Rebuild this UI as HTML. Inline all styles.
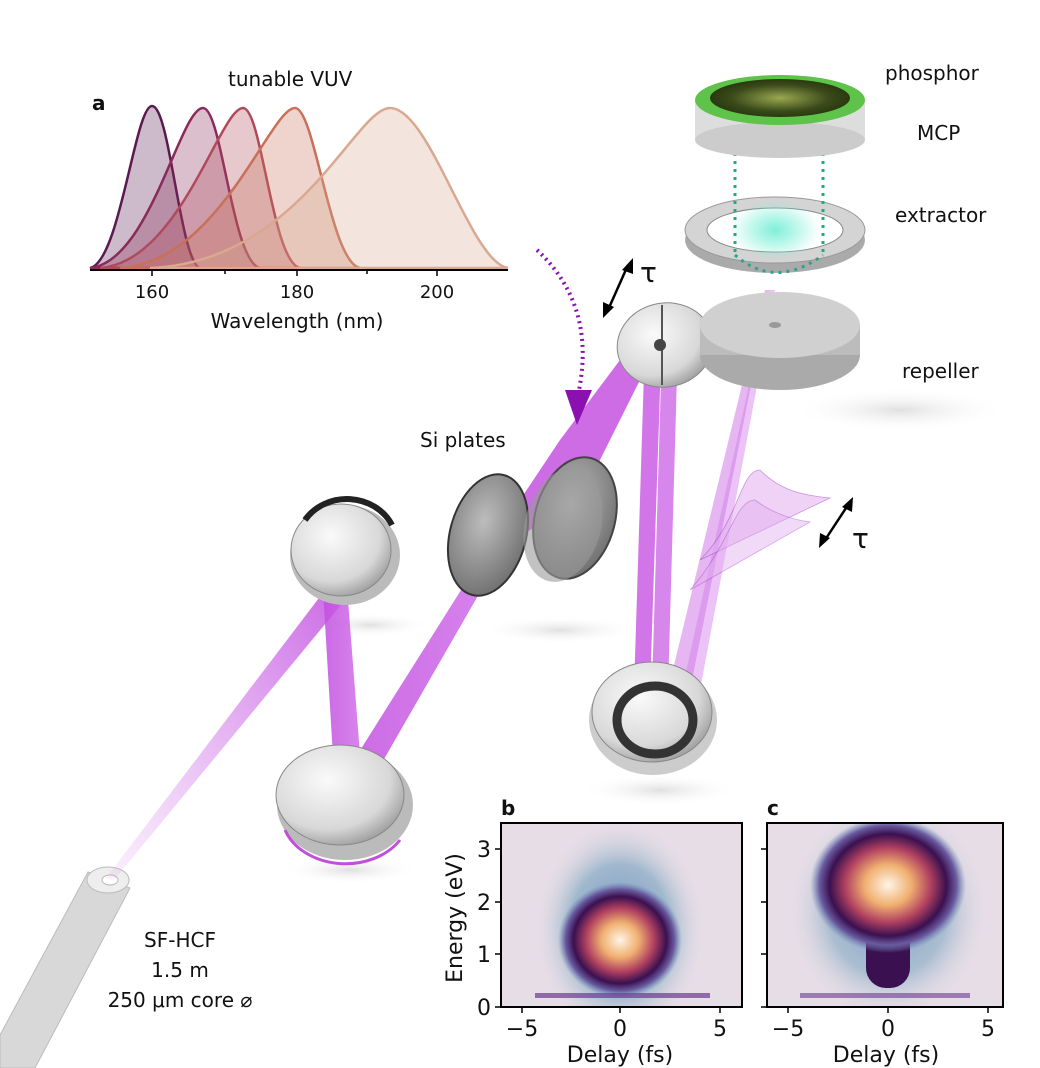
<!DOCTYPE html>
<html><head><meta charset="utf-8"><style>
html,body{margin:0;padding:0;background:#fff}
svg{display:block}
text{font-family:"DejaVu Sans","Liberation Sans",sans-serif;fill:#111}
</style></head><body>
<svg width="1040" height="1068" viewBox="0 0 1040 1068" xmlns="http://www.w3.org/2000/svg">
<defs>
<linearGradient id="beam" x1="0" y1="0" x2="1" y2="0"><stop offset="0" stop-color="#c24ee0" stop-opacity="0.85"/><stop offset="1" stop-color="#d070ea" stop-opacity="0.85"/></linearGradient>
<linearGradient id="fade" x1="0" y1="1" x2="1" y2="0"><stop offset="0" stop-color="#d27aea" stop-opacity="0.1"/><stop offset="1" stop-color="#c24ee0" stop-opacity="0.85"/></linearGradient>
<radialGradient id="mir" cx="0.4" cy="0.35" r="0.7"><stop offset="0" stop-color="#fafafa"/><stop offset="0.7" stop-color="#d8d8d8"/><stop offset="1" stop-color="#9a9a9a"/></radialGradient>
<radialGradient id="si" cx="0.4" cy="0.4" r="0.7"><stop offset="0" stop-color="#bdbdbd"/><stop offset="1" stop-color="#6a6a6a"/></radialGradient>
<radialGradient id="glow" cx="0.5" cy="0.5" r="0.5"><stop offset="0" stop-color="#7ff0d8"/><stop offset="1" stop-color="#7ff0d8" stop-opacity="0"/></radialGradient>
<radialGradient id="phos" cx="0.5" cy="0.5" r="0.5"><stop offset="0" stop-color="#9aa850"/><stop offset="0.7" stop-color="#3a4a1a"/><stop offset="1" stop-color="#2a3a10"/></radialGradient>
<radialGradient id="shadow" cx="0.5" cy="0.5" r="0.5"><stop offset="0" stop-color="#ccc" stop-opacity="0.6"/><stop offset="1" stop-color="#fff" stop-opacity="0"/></radialGradient>
<radialGradient id="hb" cx="0.5" cy="0.5" r="0.5"><stop offset="0" stop-color="#fff4e8"/><stop offset="0.3" stop-color="#f0b070"/><stop offset="0.55" stop-color="#b04060"/><stop offset="0.75" stop-color="#3a1050"/><stop offset="0.88" stop-color="#6a5aa0"/><stop offset="1" stop-color="#7090b8" stop-opacity="0"/></radialGradient>
<radialGradient id="hbg" cx="0.5" cy="0.5" r="0.5"><stop offset="0" stop-color="#5a80b8"/><stop offset="0.6" stop-color="#90b0c8"/><stop offset="1" stop-color="#e6dde6" stop-opacity="0"/></radialGradient>
<clipPath id="cb"><rect x="501" y="823" width="241" height="184"/></clipPath>
<clipPath id="cc"><rect x="767" y="823" width="236" height="184"/></clipPath>
</defs>

<!-- shadows -->
<ellipse cx="350" cy="870" rx="70" ry="14" fill="url(#shadow)"/>
<ellipse cx="660" cy="790" rx="80" ry="16" fill="url(#shadow)"/>
<ellipse cx="370" cy="625" rx="60" ry="12" fill="url(#shadow)"/>
<ellipse cx="560" cy="630" rx="80" ry="14" fill="url(#shadow)"/>
<ellipse cx="900" cy="410" rx="110" ry="22" fill="url(#shadow)"/>

<!-- fiber -->
<polygon points="88,872 130,888 35,1068 0,1068 0,1035" fill="#d8d8d8" stroke="#bbb"/>
<ellipse cx="108" cy="880" rx="21" ry="13" fill="#eee" stroke="#bbb"/>
<ellipse cx="110" cy="880" rx="8" ry="5" fill="#fff" stroke="#bbb"/>

<!-- beams -->
<polygon points="106,878 114,880 345,600 325,590" fill="url(#fade)"/>
<polygon points="323,590 348,600 362,780 335,790" fill="url(#beam)"/>
<polygon points="335,790 372,780 510,540 480,560" fill="url(#beam)"/>
<polygon points="480,560 580,500 665,330 650,320 560,440" fill="#c652e2" opacity="0.85"/>
<polygon points="645,340 662,330 650,690 634,690" fill="#c652e2" opacity="0.8"/>
<polygon points="662,345 678,340 668,690 652,690" fill="#c652e2" opacity="0.7"/>
<polygon points="668,690 690,690 770,290 765,290" fill="#d27aea" opacity="0.55"/>
<polygon points="682,690 700,690 775,290 770,290" fill="#d27aea" opacity="0.45"/>
<!-- pulses -->
<path d="M700,560 C740,520 740,470 760,470 C780,490 800,495 830,498 L700,560Z" fill="#e2aef0" opacity="0.55" stroke="#a040c0" stroke-width="0.8"/>
<path d="M690,590 C730,545 735,500 755,500 C775,515 795,520 810,522 L690,590Z" fill="#e2aef0" opacity="0.45" stroke="#a040c0" stroke-width="0.8"/>

<!-- mirrors -->
<g>
<ellipse cx="345" cy="555" rx="55" ry="50" fill="#bbb"/>
<ellipse cx="341" cy="550" rx="50" ry="46" fill="url(#mir)" stroke="#888"/>
<path d="M305,520 A50,46 0 0 1 392,525" stroke="#222" stroke-width="6" fill="none"/>
</g>
<g>
<ellipse cx="345" cy="805" rx="68" ry="55" fill="#bbb"/>
<ellipse cx="340" cy="795" rx="64" ry="50" fill="url(#mir)" stroke="#888"/>
<path d="M285,830 A64,50 0 0 0 400,840" stroke="#c050d8" stroke-width="3" fill="none"/>
</g>
<!-- Si plates -->
<ellipse cx="488" cy="535" rx="38" ry="62" fill="url(#si)" stroke="#333" stroke-width="2" transform="rotate(15 488 535)"/>
<ellipse cx="575" cy="518" rx="40" ry="62" fill="url(#si)" stroke="#444" stroke-width="2" transform="rotate(15 575 518)"/>
<ellipse cx="563" cy="525" rx="38" ry="58" fill="#9a9a9a" opacity="0.6" transform="rotate(15 563 525)"/>
<!-- split mirror -->
<ellipse cx="665" cy="345" rx="48" ry="42" fill="url(#mir)" stroke="#888" transform="rotate(-10 665 345)"/>
<line x1="662" y1="305" x2="662" y2="385" stroke="#555" stroke-width="2"/>
<circle cx="660" cy="345" r="6" fill="#444"/>
<!-- ring mirror -->
<ellipse cx="653" cy="720" rx="64" ry="55" fill="#ccc"/>
<ellipse cx="652" cy="712" rx="60" ry="50" fill="url(#mir)" stroke="#888"/>
<ellipse cx="655" cy="720" rx="38" ry="34" fill="none" stroke="#333" stroke-width="9"/>

<!-- detector -->
<ellipse cx="780" cy="355" rx="80" ry="35" fill="#aaa"/>
<rect x="700" y="325" width="160" height="30" fill="#bcbcbc"/>
<ellipse cx="780" cy="325" rx="80" ry="33" fill="#d0d0d0"/>
<ellipse cx="775" cy="325" rx="6" ry="3" fill="#999"/>
<ellipse cx="775" cy="240" rx="90" ry="33" fill="#aaa"/>
<ellipse cx="775" cy="230" rx="90" ry="33" fill="#d4d4d4" stroke="#999"/>
<ellipse cx="775" cy="230" rx="68" ry="22" fill="#fff" stroke="#888"/>
<ellipse cx="775" cy="230" rx="45" ry="30" fill="url(#glow)"/>
<line x1="735" y1="145" x2="735" y2="255" stroke="#2aa585" stroke-width="3" stroke-dasharray="3,5"/>
<line x1="823" y1="145" x2="823" y2="255" stroke="#2aa585" stroke-width="3" stroke-dasharray="3,5"/>
<path d="M735,255 Q775,290 823,255" stroke="#2aa585" stroke-width="3" stroke-dasharray="3,5" fill="none"/>
<rect x="695" y="100" width="170" height="40" fill="#ddd"/>
<ellipse cx="780" cy="140" rx="85" ry="18" fill="#ccc"/>
<ellipse cx="780" cy="100" rx="85" ry="25" fill="#5fc24a"/>
<ellipse cx="780" cy="98" rx="70" ry="19" fill="url(#phos)"/>

<!-- dotted arrow -->
<path d="M537,250 C580,290 590,340 578,395" stroke="#8a10b0" stroke-width="4" stroke-dasharray="2,4" fill="none"/>
<polygon points="565,390 592,390 577,425" fill="#8a10b0"/>

<!-- tau arrows -->
<g stroke="#000" stroke-width="2.5" fill="#000">
<line x1="608" y1="310" x2="628" y2="265"/>
<polygon points="603,318 603,302 614,307" stroke="none"/>
<polygon points="633,258 633,274 622,270" stroke="none"/>
<line x1="825" y1="540" x2="848" y2="505"/>
<polygon points="819,548 820,533 830,538" stroke="none"/>
<polygon points="853,497 852,512 842,507" stroke="none"/>
</g>
<text x="640" y="282" font-size="28" font-family="Liberation Serif,serif">τ</text>
<text x="852" y="548" font-size="28" font-family="Liberation Serif,serif">τ</text>

<!-- labels -->
<text x="885" y="80" font-size="20">phosphor</text>
<text x="917" y="140" font-size="20">MCP</text>
<text x="895" y="222" font-size="20">extractor</text>
<text x="902" y="378" font-size="20">repeller</text>
<text x="420" y="447" font-size="20">Si plates</text>
<text x="180" y="947" font-size="20" text-anchor="middle">SF-HCF</text>
<text x="180" y="977" font-size="20" text-anchor="middle">1.5 m</text>
<text x="180" y="1007" font-size="20" text-anchor="middle">250 μm core ⌀</text>

<!-- panel a -->
<text x="228" y="86" font-size="20">tunable VUV</text>
<text x="92" y="110" font-size="20" font-weight="bold">a</text>
<g stroke-width="2.5" fill-opacity="0.3">
<path d="M90,268 C120,262 135,106 152,106 C170,106 180,262 200,268Z" fill="#5a1a50" stroke="#5a1a50"/>
<path d="M90,268 C150,262 180,108 203,108 C222,108 232,262 260,268Z" fill="#8a2a5a" stroke="#8a2a5a"/>
<path d="M100,268 C180,262 220,108 243,108 C262,108 272,262 300,268Z" fill="#b04a5a" stroke="#b04a5a"/>
<path d="M120,268 C220,262 270,108 295,108 C315,108 330,262 360,268Z" fill="#c8705a" stroke="#c8705a"/>
<path d="M150,268 C300,262 355,108 390,108 C430,108 470,262 508,268Z" fill="#d8a890" stroke="#d8a890"/>
</g>
<line x1="90" y1="270" x2="508" y2="270" stroke="#000" stroke-width="2"/>
<g stroke="#000" stroke-width="1.5"><line x1="152" y1="270" x2="152" y2="276"/><line x1="225" y1="270" x2="225" y2="274"/><line x1="297" y1="270" x2="297" y2="276"/><line x1="367" y1="270" x2="367" y2="274"/><line x1="437" y1="270" x2="437" y2="276"/></g>
<g font-size="18" text-anchor="middle"><text x="152" y="298">160</text><text x="297" y="298">180</text><text x="437" y="298">200</text></g>
<text x="297" y="328" font-size="20" text-anchor="middle">Wavelength (nm)</text>

<!-- panel b -->
<text x="501" y="815" font-size="20" font-weight="bold">b</text>
<g clip-path="url(#cb)">
<rect x="501" y="823" width="241" height="184" fill="#e6dde6"/>
<ellipse cx="620" cy="930" rx="85" ry="110" fill="url(#hbg)" opacity="0.8"/>
<ellipse cx="620" cy="940" rx="62" ry="58" fill="url(#hb)"/>
<rect x="535" y="993" width="175" height="5" fill="#6a3a90" opacity="0.7"/>
</g>
<rect x="501" y="823" width="241" height="184" fill="none" stroke="#000" stroke-width="2"/>
<!-- panel c -->
<text x="767" y="815" font-size="20" font-weight="bold">c</text>
<g clip-path="url(#cc)">
<rect x="767" y="823" width="236" height="184" fill="#e6dde6"/>
<ellipse cx="888" cy="910" rx="100" ry="110" fill="url(#hbg)" opacity="0.7"/>
<rect x="866" y="910" width="44" height="78" rx="20" fill="#3a1050"/>
<ellipse cx="888" cy="885" rx="78" ry="68" fill="url(#hb)"/>
<rect x="800" y="993" width="170" height="5" fill="#6a3a90" opacity="0.6"/>
</g>
<rect x="767" y="823" width="236" height="184" fill="none" stroke="#000" stroke-width="2"/>
<!-- axes ticks -->
<g stroke="#000" stroke-width="1.5">
<line x1="495" y1="849" x2="501" y2="849"/><line x1="495" y1="902" x2="501" y2="902"/><line x1="495" y1="954" x2="501" y2="954"/><line x1="495" y1="1007" x2="501" y2="1007"/>
<line x1="761" y1="849" x2="767" y2="849"/><line x1="761" y1="902" x2="767" y2="902"/><line x1="761" y1="954" x2="767" y2="954"/><line x1="761" y1="1007" x2="767" y2="1007"/>
<line x1="522" y1="1007" x2="522" y2="1013"/><line x1="620" y1="1007" x2="620" y2="1013"/><line x1="720" y1="1007" x2="720" y2="1013"/>
<line x1="788" y1="1007" x2="788" y2="1013"/><line x1="888" y1="1007" x2="888" y2="1013"/><line x1="988" y1="1007" x2="988" y2="1013"/>
</g>
<g font-size="22" text-anchor="end"><text x="491" y="857">3</text><text x="491" y="910">2</text><text x="491" y="962">1</text><text x="491" y="1015">0</text></g>
<text x="462" y="918" font-size="22" text-anchor="middle" transform="rotate(-90 462 918)">Energy (eV)</text>
<g font-size="22" text-anchor="middle"><text x="522" y="1036">−5</text><text x="620" y="1036">0</text><text x="720" y="1036">5</text><text x="788" y="1036">−5</text><text x="888" y="1036">0</text><text x="988" y="1036">5</text></g>
<text x="620" y="1062" font-size="22" text-anchor="middle">Delay (fs)</text>
<text x="886" y="1062" font-size="22" text-anchor="middle">Delay (fs)</text>
</svg>
</body></html>
